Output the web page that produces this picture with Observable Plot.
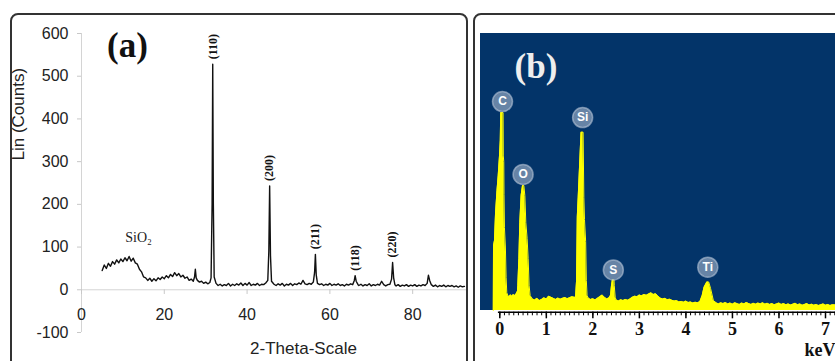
<!DOCTYPE html>
<html>
<head>
<meta charset="utf-8">
<script src="https://cdn.jsdelivr.net/npm/d3@7"></script>
<script src="https://cdn.jsdelivr.net/npm/@observablehq/plot@0.6"></script>
<style>
  html, body { margin: 0; padding: 0; background: #fff; }
  #wrap { position: relative; width: 835px; height: 361px; overflow: hidden; background: #fff; }
  .panel { position: absolute; box-sizing: border-box; border: 2px solid #333; border-radius: 8px; }
  .abs { position: absolute; top: 0; }
</style>
</head>
<body>
<div id="wrap">
  <div class="panel" style="left:10px;top:13px;width:458px;height:420px;"></div>
  <div class="panel" style="left:473px;top:13px;width:420px;height:420px;"></div>
  <div style="position:absolute;left:480px;top:33px;width:355px;height:277px;background:#033469;"></div>
  <div id="a" class="abs" style="left:0;width:470px;"></div>
  <div id="b" class="abs" style="left:480px;width:355px;"></div>
</div>
<script>
// ---------- Panel (a): XRD pattern ----------
const xrdTheta = [
  5.0,5.5,6.0,6.5,7.0,7.5,8.0,8.5,9.0,9.5,10.0,10.5,11.0,11.5,12.0,12.5,13.0,13.5,14.0,14.5,
  15.0,15.5,16.0,16.5,17.0,17.5,18.0,18.5,19.0,19.5,20.0,20.5,21.0,21.5,22.0,22.5,23.0,23.5,24.0,24.5,
  25.0,25.5,26.0,26.5,27.0,27.3,27.5,27.7,28.0,28.5,29.0,29.5,30.0,30.5,31.0,31.3,31.55,31.7,31.85,32.05,
  32.5,33.0,33.5,34.0,34.5,35.0,35.5,36.0,36.5,37.0,37.5,38.0,38.5,39.0,39.5,40.0,40.5,41.0,41.5,42.0,
  42.5,43.0,43.5,44.0,44.5,45.0,45.25,45.45,45.65,45.9,46.5,47.0,47.5,48.0,48.5,49.0,49.5,50.0,50.5,51.0,
  51.5,52.0,52.5,53.0,53.5,54.0,54.5,55.0,55.5,56.0,56.3,56.5,56.7,57.0,57.5,58.0,58.5,59.0,59.5,60.0,
  60.5,61.0,61.5,62.0,62.5,63.0,63.5,64.0,64.5,65.0,65.5,65.9,66.1,66.35,66.8,67.0,67.5,68.0,68.5,69.0,
  69.5,70.0,70.5,71.0,71.5,72.0,72.5,73.0,73.5,74.0,74.5,74.9,75.15,75.4,75.7,76.0,76.5,77.0,77.5,78.0,
  78.5,79.0,79.5,80.0,80.5,81.0,81.5,82.0,82.5,83.0,83.5,83.8,84.1,84.5,85.0,85.5,86.0,86.5,87.0,87.5,
  88.0,88.5,89.0,89.5,90.0,90.5,91.0,91.5,92.0,92.5
];
const xrdCounts = [
  45,58,50,62,55,66,60,70,63,72,66,75,68,78,67,74,63,60,48,42,
  30,28,22,27,20,26,21,28,24,30,26,33,28,36,31,40,33,38,30,34,
  27,30,22,25,20,30,48,28,22,18,20,15,18,14,17,28,200,528,200,30,
  15,10,13,9,12,10,15,9,13,10,14,11,16,10,15,11,17,10,13,11,
  15,10,13,12,16,22,90,243,80,20,13,10,14,11,15,9,13,11,15,10,
  14,12,16,13,22,14,12,15,13,18,40,83,35,15,12,14,10,13,11,15,
  10,13,11,14,10,12,9,13,11,14,12,22,33,20,12,10,13,9,12,10,
  14,9,12,10,13,11,20,12,9,12,13,25,64,28,12,9,12,8,11,9,
  12,8,11,9,12,8,11,9,12,10,15,34,22,12,8,11,7,10,8,11,
  7,10,8,10,7,9,6,9,7,8
];
const peakTheta = [31.7, 45.45, 56.5, 66.1, 75.15];
const peakCounts = [528, 243, 83, 33, 64];
const peakLabels = ["(110)", "(200)", "(211)", "(118)", "(220)"];
const phaseTheta = [13.8];
const phaseCounts = [122];
const phaseLabels = ["SiO\u2082"];
const xTicksA = [0, 20, 40, 60, 80];
const yTicksA = [-100, 0, 100, 200, 300, 400, 500, 600];

const xrd = xrdTheta.map((t, i) => ({t, c: xrdCounts[i]}));
const peaks = peakTheta.map((t, i) => ({t, c: peakCounts[i], label: peakLabels[i]}));
const phases = phaseTheta.map((t, i) => ({t, c: phaseCounts[i], label: phaseLabels[i]}));

const serif = "Liberation Serif, Times New Roman, serif";
const sans = "Liberation Sans, Arial, sans-serif";

const plotA = Plot.plot({
  width: 470, height: 361,
  marginLeft: 81, marginRight: 4, marginTop: 33, marginBottom: 29,
  style: {background: "transparent", overflow: "visible", fontFamily: sans},
  x: {domain: [0, 93], axis: null},
  y: {domain: [-100, 600], axis: null},
  marks: [
    Plot.ruleX([0], {y1: -100, y2: 600, stroke: "#d4d4d4"}),
    Plot.ruleY([0], {stroke: "#d4d4d4"}),
    Plot.ruleX(xTicksA, {x: d => d, y1: 0, y2: -11, stroke: "#c8c8c8"}),
    Plot.text(xTicksA, {x: d => d, y: 0, dy: 25, text: d => String(d), fontSize: 16, fill: "#222"}),
    Plot.axisY({ticks: yTicksA, tickSize: 4, tickPadding: 9, fontSize: 16, stroke: "#c8c8c8", fill: "#222", tickFormat: d => String(d), label: null}),
    Plot.line(xrd, {x: "t", y: "c", stroke: "#111", strokeWidth: 1.4}),
    Plot.text(peaks, {x: "t", y: "c", text: "label", rotate: -90, textAnchor: "start", lineAnchor: "middle", dy: -5, fontFamily: serif, fontWeight: "bold", fontSize: 12, fill: "#111"}),
    Plot.text(phases, {x: "t", y: "c", text: "label", fontFamily: serif, fontSize: 14, fill: "#222"}),
    Plot.text(["(a)"], {frameAnchor: "top-left", lineAnchor: "middle", dx: 46, dy: 12.4, textAnchor: "middle", fontFamily: serif, fontWeight: "bold", fontSize: 35, fill: "#111"}),
    Plot.text(["Lin (Counts)"], {frameAnchor: "left", lineAnchor: "middle", dx: -63, dy: -22.5, rotate: -90, fontSize: 17, fill: "#222"}),
    Plot.text(["2-Theta-Scale"], {frameAnchor: "bottom", lineAnchor: "middle", dx: 29.5, dy: 16, fontSize: 17, fill: "#222"})
  ]
});
document.getElementById("a").appendChild(plotA);

// ---------- Panel (b): EDS spectrum ----------
const edsKeV = [
  -0.14,-0.135,-0.114,-0.092,-0.06,-0.034,-0.006,0.01,0.02,0.07,0.075,0.085,0.09,0.1,0.12,0.135,0.15,0.17,
  0.2,0.23,0.26,0.29,0.32,0.35,0.38,0.387,0.41,0.43,0.458,0.488,0.516,0.538,0.559,0.587,0.609,0.63,0.652,
  0.7,0.75,0.8,0.85,0.9,0.95,1.0,1.05,1.1,1.15,1.2,1.25,1.3,1.35,1.4,1.45,1.5,1.55,1.6,1.628,1.65,1.665,1.685,1.746,1.79,
  1.806,1.82,1.845,1.86,1.875,1.9,1.95,2.0,2.05,2.1,2.15,2.2,2.25,2.3,2.35,2.38,2.4,2.42,2.455,2.46,2.48,
  2.5,2.55,2.6,2.65,2.7,2.75,2.8,2.85,2.9,2.95,3.0,3.05,3.1,3.15,3.2,3.25,3.3,3.35,3.4,3.45,3.5,3.55,3.6,3.65,
  3.7,3.75,3.8,3.85,3.9,3.95,4.0,4.05,4.1,4.15,4.2,4.25,4.3,4.35,4.39,4.45,4.49,4.53,4.59,4.65,
  4.7,4.75,4.8,4.85,4.9,4.95,5.0,5.05,5.1,5.15,5.2,5.25,5.3,5.35,5.4,5.45,5.5,5.55,5.6,5.65,5.7,5.75,5.8,5.85,
  5.9,5.95,6.0,6.05,6.1,6.15,6.2,6.25,6.3,6.35,6.4,6.45,6.5,6.55,6.6,6.65,6.7,6.75,6.8,6.85,6.9,6.95,7.0,7.05,
  7.1,7.15,7.22
];
const edsCounts = [
  0,235,254,351,435,489,562,616,717,717,560,540,420,300,230,120,65,55,
  50,57,52,58,54,60,70,90,188,319,417,453,453,417,319,261,188,90,54,
  42,38,44,36,40,46,42,52,48,44,40,45,41,44,47,43,46,50,48,48,109,338,410,646,646,
  410,330,250,109,55,45,40,43,38,44,50,56,48,42,46,55,90,111,111,90,48,
  38,34,39,36,40,37,42,48,52,50,56,53,58,55,60,64,58,61,52,45,42,44,39,41,
  37,34,36,31,33,30,34,29,31,27,30,28,32,54,84,103,103,80,36,28,
  24,28,25,29,24,27,23,28,25,22,27,24,29,25,22,26,23,27,24,28,23,26,22,25,
  21,24,27,22,25,21,24,20,23,26,21,24,19,22,25,20,23,19,22,18,21,24,19,22,
  18,21,20
];
const elemNames = ["C", "O", "Si", "S", "Ti"];
const elemKeV = [0.058, 0.50, 1.78, 2.44, 4.47];
const elemLabelCounts = [757, 493, 699, 147, 157];
const keVTicks = [0, 1, 2, 3, 4, 5, 6, 7];
const keVTickLabels = ["0", "1", "2", "3", "4", "5", "6", "7"];
const keVMinorTicks = d3.range(0, 7.25, 0.1).map(d => +d.toFixed(1));

const eds = edsKeV.map((k, i) => ({k, c: edsCounts[i]}));
const elems = elemNames.map((n, i) => ({n, k: elemKeV[i], c: elemLabelCounts[i]}));
const majors = keVTicks.map((k, i) => ({k, label: keVTickLabels[i]}));

const plotB = Plot.plot({
  width: 355, height: 361,
  marginLeft: 19.3, marginRight: 10, marginTop: 34, marginBottom: 51,
  style: {background: "transparent", overflow: "visible", fontFamily: sans},
  x: {domain: [0, 7], axis: null},
  y: {domain: [0, 1000], axis: null},
  marks: [
    Plot.areaY(eds, {x: "k", y: "c", fill: "#ffff00"}),
    Plot.line(eds, {x: "k", y: "c", stroke: "#ffff00", strokeWidth: 1}),
    Plot.ruleY([0], {x1: -0.03, x2: 7.3, stroke: "#000", strokeWidth: 1.5, dy: 1.7}),
    Plot.ruleX(keVMinorTicks, {x: d => d, y1: 0, y2: -13, stroke: "#000", strokeWidth: 1, dy: 1.7}),
    Plot.ruleX(keVTicks, {x: d => d, y1: 0, y2: -24, stroke: "#000", strokeWidth: 1.5, dy: 1.7}),
    Plot.text(majors, {x: "k", y: 0, dy: 19, text: "label", lineAnchor: "middle", fontFamily: serif, fontWeight: "bold", fontSize: 18, fill: "#111"}),
    Plot.text(["keV"], {frameAnchor: "bottom-right", lineAnchor: "middle", dx: 10, dy: 39.5, textAnchor: "end", fontFamily: serif, fontWeight: "bold", fontSize: 18, fill: "#111"}),
    Plot.text(["(b)"], {frameAnchor: "top-left", lineAnchor: "middle", dx: 36.2, dy: 31.9, textAnchor: "middle", fontFamily: serif, fontWeight: "bold", fontSize: 35, fill: "#eeeeee"}),
    Plot.dot(elems, {x: "k", y: "c", r: 10, fill: "#8fa4be", fillOpacity: 0.72, stroke: "#b9c7d8", strokeOpacity: 0.6, strokeWidth: 1.5}),
    Plot.text(elems, {x: "k", y: "c", text: "n", fill: "#ffffff", fontSize: 12, fontWeight: "bold"})
  ]
});
document.getElementById("b").appendChild(plotB);
</script>
</body>
</html>
